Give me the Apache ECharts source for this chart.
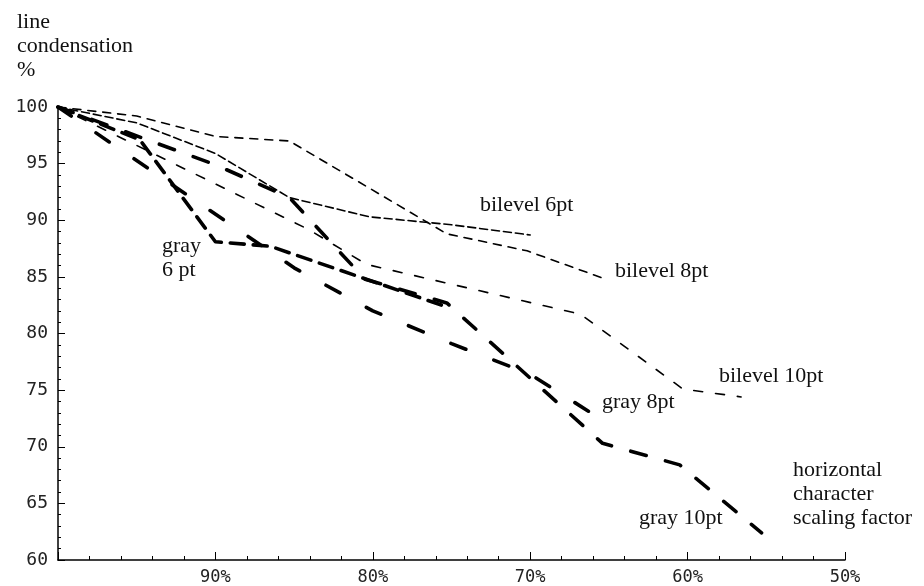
<!DOCTYPE html>
<html>
<head>
<meta charset="utf-8">
<script src="https://cdn.jsdelivr.net/npm/echarts@6/dist/echarts.min.js"></script>
<style>
  html, body { margin: 0; padding: 0; background: #fff; }
  #chart { width: 924px; height: 586px; }
</style>
</head>
<body>
<div id="chart"></div>
<script>
// [scaling factor %, line condensation %]
const bilevel6 = [[100, 100], [95, 98.6], [90, 95.9], [85.3, 92.0], [80.2, 90.3], [75, 89.6], [70, 88.7]];
const bilevel8 = [[100, 100], [95, 99.2], [90, 97.4], [85.3, 97.0], [75.3, 88.8], [70.2, 87.3], [65.2, 84.8]];
const bilevel10 = [[100, 100], [84.1, 89.2], [80.4, 86.1], [66.8, 81.7], [60.3, 75.1], [56.6, 74.4]];
const gray6 = [[100, 100], [94.8, 97.1], [90, 88.1], [86.5, 87.7], [75.2, 82.3]];
const gray8 = [[100, 100], [87, 87.7], [85, 85.8], [80, 82.0], [75, 79.1], [70, 76.4], [65.8, 72.7]];
const gray10 = [[100, 100], [90, 94.9], [85.3, 92.0], [80.5, 84.8], [75.3, 82.7], [65.4, 70.3], [60.5, 68.4], [55.3, 62.4]];

const xTicks = [50, 60, 70, 80, 90, 100];
const yTicks = [60, 65, 70, 75, 80, 85, 90, 95, 100];

const chart = echarts.init(document.getElementById('chart'));

function line(name, data, width, dash) {
  return {
    name: name,
    type: 'line',
    data: data,
    showSymbol: false,
    symbol: 'none',
    silent: true,
    lineStyle: { color: '#000', width: width, type: dash, cap: 'round', join: 'round' }
  };
}

const serif = 'Liberation Serif';
const txt = (x, y, s) => ({
  type: 'text', left: x, top: y,
  style: { text: s, font: '22px "' + serif + '"', fill: '#111', lineHeight: 24 }
});

chart.setOption({
  animation: false,
  grid: { left: 58, right: 79, top: 107, bottom: 25 },
  xAxis: {
    type: 'value',
    inverse: true,
    min: xTicks[0],
    max: xTicks[xTicks.length - 1],
    interval: 10,
    splitLine: { show: false },
    axisLine: { lineStyle: { color: '#000', width: 1.5 } },
    axisTick: { inside: true, length: 8, lineStyle: { color: '#000' } },
    minorTick: { show: true, splitNumber: 5, length: 4, lineStyle: { color: '#000' } },
    axisLabel: {
      color: '#222', fontFamily: 'DejaVu Sans Mono', fontSize: 17, margin: 9,
      formatter: v => (v === 100 ? '' : v + '%')
    }
  },
  yAxis: {
    type: 'value',
    min: yTicks[0],
    max: yTicks[yTicks.length - 1],
    interval: 5,
    splitLine: { show: false },
    axisLine: { show: true, lineStyle: { color: '#000', width: 1.5 } },
    axisTick: { show: true, inside: true, length: 7, lineStyle: { color: '#000' } },
    minorTick: { show: true, splitNumber: 5, length: 3, lineStyle: { color: '#000' } },
    axisLabel: { color: '#222', fontFamily: 'DejaVu Sans Mono', fontSize: 18, margin: 10 }
  },
  series: [
    line('bilevel 6pt', bilevel6, 1.6, [8, 4]),
    line('bilevel 8pt', bilevel8, 1.6, [8, 7]),
    line('bilevel 10pt', bilevel10, 1.6, [9, 13]),
    line('gray 6pt', gray6, 3.6, [14, 9]),
    line('gray 8pt', gray8, 3.6, [16, 30]),
    line('gray 10pt', gray10, 3.6, [16, 20])
  ],
  graphic: [
    txt(17, 10, 'line\ncondensation\n%'),
    txt(480, 193, 'bilevel 6pt'),
    txt(615, 259, 'bilevel 8pt'),
    txt(719, 364, 'bilevel 10pt'),
    txt(162, 234, 'gray\n6 pt'),
    txt(602, 390, 'gray 8pt'),
    txt(639, 506, 'gray 10pt'),
    txt(793, 458, 'horizontal\ncharacter\nscaling factor')
  ]
});
</script>
</body>
</html>
